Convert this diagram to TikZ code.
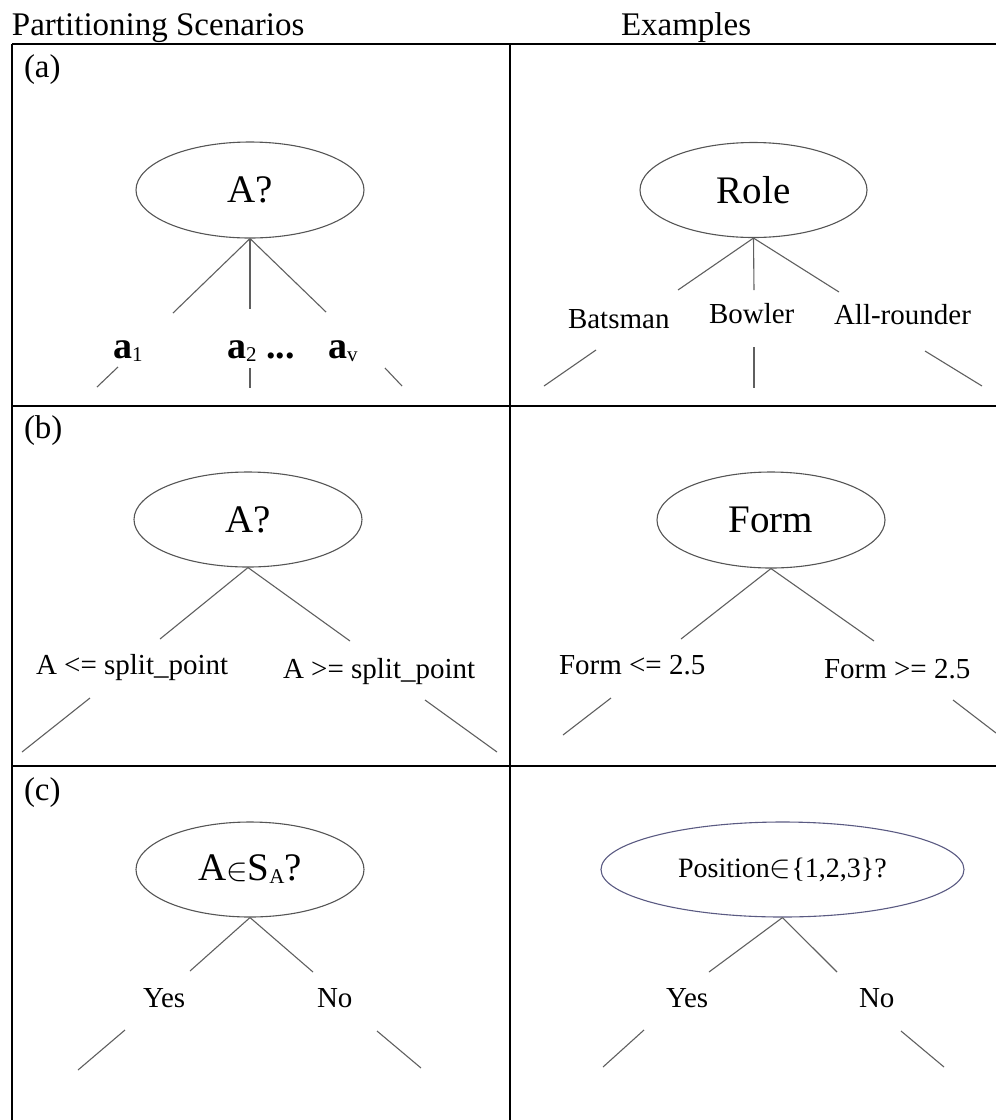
\documentclass[tikz,border=0pt]{standalone}
\usepackage{fontspec}
\setmainfont{Liberation Serif}
\usetikzlibrary{shapes.geometric}
\newcommand\fsHead{\fontsize{33}{40}\selectfont}
\newcommand\fsEll{\fontsize{39}{46}\selectfont}
\newcommand\fsLab{\fontsize{29}{34}\selectfont}
\newcommand\fsPos{\fontsize{28}{33}\selectfont}
\newcommand\fsVal{\fontsize{38}{44}\selectfont}
\newcommand\mysub[1]{\raisebox{-3pt}{\fontsize{21}{21}\selectfont #1}}
\newcommand\bigin{\scalebox{1.3}{$\in$}}
\definecolor{linegray}{RGB}{95,95,95}
\definecolor{ellgray}{RGB}{85,85,85}
\definecolor{ellblue}{RGB}{90,90,130}
\tikzset{
  tbl/.style={line width=1.6pt, black},
  branch/.style={line width=1.1pt, linegray},
  stub/.style={line width=1.1pt, linegray},
  ell/.style={ellipse, draw=ellgray, line width=1.1pt, inner sep=0pt},
  txt/.style={anchor=base west, inner sep=0pt, outer sep=0pt, text=black},
}
\begin{document}
\begin{tikzpicture}[x=1pt,y=-1pt]
\useasboundingbox (0,0) rectangle (996,1120);
% headers
\node[txt] (h1) at (12,35) {\fsHead Partitioning Scenarios};
\node[txt] (h2) at (621,35) {\fsHead Examples};
% table lines
\coordinate (tl) at (12,44);
\coordinate (tr) at (996,44);
\coordinate (bl) at (12,1120);
\coordinate (tm) at (510,44);
\coordinate (bm) at (510,1120);
\coordinate (r1l) at (12,406);
\coordinate (r1r) at (996,406);
\coordinate (r2l) at (12,766);
\coordinate (r2r) at (996,766);
\draw[tbl] (tl) -- (tr);
\draw[tbl] (tl) -- (bl);
\draw[tbl] (tm) -- (bm);
\draw[tbl] (r1l) -- (r1r);
\draw[tbl] (r2l) -- (r2r);
% row labels
\node[txt] (la) at (24,77) {\fsHead (a)};
\node[txt] (lb) at (24,438) {\fsHead (b)};
\node[txt] (lc) at (24,800) {\fsHead (c)};

% ===== (a) left
\node[ell, minimum width=228pt, minimum height=96pt] (ea) at (250,190) {\fsEll A?};
\coordinate (ea1) at (173,313);
\coordinate (ea2) at (250,309);
\coordinate (ea3) at (326,312);
\draw[branch] (ea.south) -- (ea1);
\draw[branch] (ea.south) -- (ea2);
\draw[branch] (ea.south) -- (ea3);
\node[txt] (va1) at (113,358) {\fsVal\textbf{a}\mysub{1}};
\node[txt] (va2) at (227,358) {\fsVal\textbf{a}\mysub{2} \textbf{...}};
\node[txt] (vav) at (328,358) {\fsVal\textbf{a}\mysub{v}};
\coordinate (sa1s) at (118,367); \coordinate (sa1e) at (97,387);
\coordinate (sa2s) at (250,368); \coordinate (sa2e) at (250,388);
\coordinate (sa3s) at (385,368); \coordinate (sa3e) at (402,386);
\draw[stub] (sa1s) -- (sa1e);
\draw[stub] (sa2s) -- (sa2e);
\draw[stub] (sa3s) -- (sa3e);

% ===== (a) right
\node[ell, minimum width=227pt, minimum height=95pt] (ra) at (753.5,190) {\fsEll Role};
\coordinate (ra1) at (678,290);
\coordinate (ra2) at (754,290);
\coordinate (ra3) at (839,292);
\draw[branch] (ra.south) -- (ra1);
\draw[branch] (ra.south) -- (ra2);
\draw[branch] (ra.south) -- (ra3);
\node[txt] (bat) at (568,328) {\fsLab Batsman};
\node[txt] (bow) at (709,323) {\fsLab Bowler};
\node[txt] (all) at (834,324) {\fsLab All-rounder};
\coordinate (sr1s) at (596,350); \coordinate (sr1e) at (544,386);
\coordinate (sr2s) at (754,347); \coordinate (sr2e) at (754,388);
\coordinate (sr3s) at (925,351); \coordinate (sr3e) at (982,386);
\draw[stub] (sr1s) -- (sr1e);
\draw[stub] (sr2s) -- (sr2e);
\draw[stub] (sr3s) -- (sr3e);

% ===== (b) left
\node[ell, minimum width=228pt, minimum height=95pt] (eb) at (248,519.5) {\fsEll A?};
\coordinate (eb1) at (160,639);
\coordinate (eb2) at (350,641);
\draw[branch] (eb.south) -- (eb1);
\draw[branch] (eb.south) -- (eb2);
\node[txt] (le) at (36,674) {\fsLab A <= split\_point};
\node[txt] (ge) at (283,678) {\fsLab A >= split\_point};
\coordinate (sb1s) at (90,698); \coordinate (sb1e) at (22,752);
\coordinate (sb2s) at (425,700); \coordinate (sb2e) at (497,752);
\draw[stub] (sb1s) -- (sb1e);
\draw[stub] (sb2s) -- (sb2e);

% ===== (b) right
\node[ell, minimum width=228pt, minimum height=96pt] (rb) at (771,520) {\fsEll Form};
\coordinate (rb1) at (681,639);
\coordinate (rb2) at (874,641);
\draw[branch] (rb.south) -- (rb1);
\draw[branch] (rb.south) -- (rb2);
\node[txt] (fle) at (559,674) {\fsLab Form <= 2.5};
\node[txt] (fge) at (824,678) {\fsLab Form >= 2.5};
\coordinate (srb1s) at (611,698); \coordinate (srb1e) at (563,735);
\coordinate (srb2s) at (953,700); \coordinate (srb2e) at (996,733);
\draw[stub] (srb1s) -- (srb1e);
\draw[stub] (srb2s) -- (srb2e);

% ===== (c) left
\node[ell, minimum width=228pt, minimum height=95pt] (ec) at (250,869.5) {\fsEll A\bigin S\mysub{A}?};
\coordinate (ec1) at (190,971);
\coordinate (ec2) at (313,972);
\draw[branch] (ec.south) -- (ec1);
\draw[branch] (ec.south) -- (ec2);
\node[txt] (yl) at (143,1007) {\fsLab Yes};
\node[txt] (nl) at (317,1007) {\fsLab No};
\coordinate (sc1s) at (125,1030); \coordinate (sc1e) at (78,1070);
\coordinate (sc2s) at (377,1031); \coordinate (sc2e) at (421,1068);
\draw[stub] (sc1s) -- (sc1e);
\draw[stub] (sc2s) -- (sc2e);

% ===== (c) right
\node[ell, draw=ellblue, minimum width=363pt, minimum height=95pt] (rc) at (782.5,869.5) {\fsPos Position\bigin\{1,2,3\}?};
\coordinate (rc1) at (709,972);
\coordinate (rc2) at (837,972);
\draw[branch] (rc.south) -- (rc1);
\draw[branch] (rc.south) -- (rc2);
\node[txt] (yr) at (666,1007) {\fsLab Yes};
\node[txt] (nr) at (859,1007) {\fsLab No};
\coordinate (src1s) at (644,1030); \coordinate (src1e) at (603,1067);
\coordinate (src2s) at (901,1031); \coordinate (src2e) at (944,1067);
\draw[stub] (src1s) -- (src1e);
\draw[stub] (src2s) -- (src2e);
\end{tikzpicture}
\end{document}
